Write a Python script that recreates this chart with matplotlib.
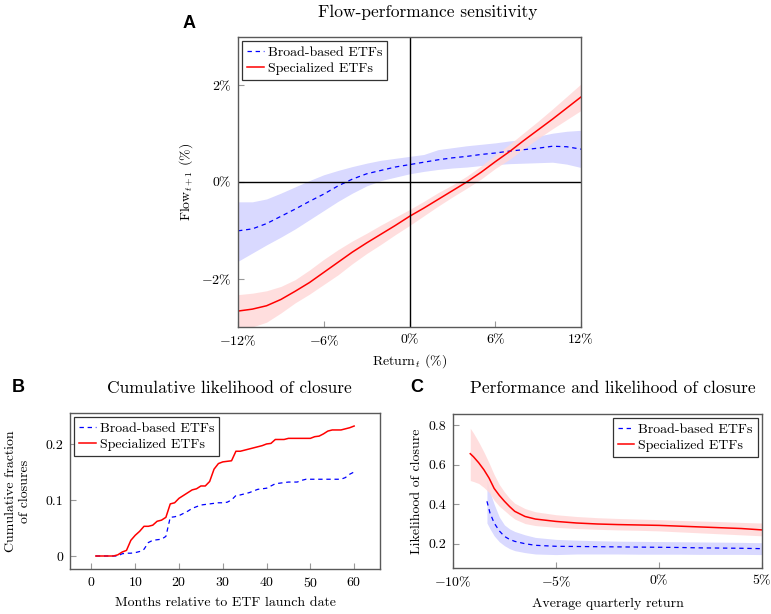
import numpy as np
import matplotlib
matplotlib.use("Agg")
import matplotlib.pyplot as plt

plt.rcParams['font.family'] = ['cmr10', 'DejaVu Serif']
plt.rcParams['mathtext.fontset'] = 'cm'
plt.rcParams['axes.formatter.use_mathtext'] = True

# ---- Panel A: flow-performance sensitivity ----
ret_a = [-12, -11, -10, -9, -8, -7, -6, -5, -4, -3, -2, -1, 0,
         1, 2, 3, 4, 5, 6, 7, 8, 9, 10, 11, 12]
broad_a = [-1.01, -0.97, -0.86, -0.71, -0.56, -0.40, -0.25, -0.08, 0.06, 0.17, 0.24, 0.31, 0.36,
           0.41, 0.46, 0.50, 0.53, 0.57, 0.60, 0.64, 0.67, 0.70, 0.74, 0.73, 0.68]
broad_a_hi = [-0.41, -0.41, -0.35, -0.23, -0.10, 0.03, 0.15, 0.24, 0.32, 0.39, 0.45, 0.49, 0.53,
              0.57, 0.67, 0.71, 0.75, 0.78, 0.81, 0.85, 0.88, 0.95, 1.01, 1.05, 1.07]
broad_a_lo = [-1.64, -1.47, -1.30, -1.14, -0.97, -0.78, -0.59, -0.40, -0.23, -0.08, 0.03, 0.10, 0.17,
              0.22, 0.26, 0.29, 0.31, 0.34, 0.36, 0.38, 0.39, 0.40, 0.41, 0.37, 0.30]
spec_a = [-2.67, -2.63, -2.56, -2.43, -2.26, -2.08, -1.87, -1.66, -1.45, -1.26, -1.08, -0.90, -0.71,
          -0.54, -0.36, -0.18, 0.00, 0.20, 0.42, 0.63, 0.86, 1.08, 1.30, 1.53, 1.76]
spec_a_hi = [-2.33, -2.30, -2.25, -2.16, -2.02, -1.82, -1.60, -1.40, -1.22, -1.06, -0.89, -0.73, -0.57,
             -0.40, -0.22, -0.06, 0.12, 0.33, 0.56, 0.78, 1.02, 1.26, 1.51, 1.77, 2.03]
spec_a_lo = [-3.05, -3.00, -2.90, -2.71, -2.50, -2.32, -2.12, -1.92, -1.69, -1.48, -1.29, -1.09, -0.90,
             -0.70, -0.50, -0.31, -0.13, 0.06, 0.28, 0.47, 0.69, 0.90, 1.10, 1.29, 1.48]

# ---- Panel B: cumulative likelihood of closure ----
months = list(range(1, 61))
broad_b = [0, 0, 0, 0, 0, 0, 0.004, 0.005, 0.005, 0.006, 0.008, 0.012, 0.024, 0.028, 0.029,
           0.030, 0.035, 0.069, 0.070, 0.072, 0.076, 0.080, 0.085, 0.088, 0.091, 0.092, 0.093,
           0.094, 0.095, 0.095, 0.096, 0.100, 0.108, 0.109, 0.111, 0.113, 0.116, 0.119, 0.120,
           0.121, 0.125, 0.129, 0.130, 0.131, 0.132, 0.132, 0.132, 0.135, 0.137, 0.137, 0.137,
           0.137, 0.137, 0.137, 0.137, 0.137, 0.137, 0.140, 0.146, 0.150]
spec_b = [0, 0, 0, 0, 0, 0.002, 0.007, 0.010, 0.028, 0.037, 0.044, 0.053, 0.053, 0.055, 0.062,
          0.064, 0.069, 0.093, 0.095, 0.103, 0.108, 0.113, 0.118, 0.120, 0.125, 0.125, 0.133,
          0.155, 0.165, 0.168, 0.169, 0.170, 0.187, 0.187, 0.189, 0.191, 0.193, 0.195, 0.197,
          0.200, 0.201, 0.208, 0.208, 0.208, 0.210, 0.210, 0.210, 0.210, 0.210, 0.210, 0.213,
          0.214, 0.218, 0.223, 0.225, 0.225, 0.225, 0.227, 0.229, 0.232]

# ---- Panel C: performance and likelihood of closure ----
ret_c_spec = [-9.16, -9.0, -8.75, -8.5, -8.25, -8.0, -7.75, -7.5, -7.25, -7.0, -6.5, -6.0,
              -5.0, -4.0, -3.0, -2.0, -1.0, 0.0, 1.0, 2.0, 3.0, 4.0, 5.0]
spec_c = [0.656, 0.640, 0.610, 0.575, 0.533, 0.480, 0.445, 0.415, 0.388, 0.364, 0.338, 0.325,
          0.313, 0.305, 0.300, 0.297, 0.295, 0.293, 0.289, 0.285, 0.281, 0.277, 0.270]
spec_c_hi = [0.785, 0.760, 0.715, 0.665, 0.610, 0.550, 0.500, 0.462, 0.430, 0.405, 0.378, 0.362,
             0.347, 0.338, 0.332, 0.328, 0.325, 0.322, 0.318, 0.315, 0.312, 0.308, 0.305]
spec_c_lo = [0.520, 0.515, 0.505, 0.485, 0.460, 0.420, 0.390, 0.368, 0.345, 0.325, 0.302, 0.292,
             0.283, 0.277, 0.273, 0.270, 0.268, 0.265, 0.260, 0.255, 0.250, 0.245, 0.240]
ret_c_broad = [-8.35, -8.2, -8.0, -7.75, -7.5, -7.25, -7.0, -6.5, -6.0, -5.0, -4.0, -3.0,
               -2.0, -1.0, 0.0, 1.0, 2.0, 3.0, 4.0, 5.0]
broad_c = [0.415, 0.355, 0.305, 0.265, 0.237, 0.222, 0.212, 0.200, 0.192, 0.187, 0.186, 0.185,
           0.184, 0.183, 0.182, 0.181, 0.179, 0.178, 0.177, 0.175]
broad_c_hi = [0.525, 0.460, 0.400, 0.335, 0.295, 0.275, 0.262, 0.245, 0.232, 0.222, 0.218, 0.215,
              0.213, 0.212, 0.211, 0.210, 0.209, 0.208, 0.207, 0.205]
broad_c_lo = [0.305, 0.275, 0.240, 0.210, 0.190, 0.175, 0.165, 0.155, 0.148, 0.145, 0.148, 0.148,
              0.148, 0.147, 0.147, 0.147, 0.146, 0.146, 0.146, 0.145]

BLUE = (0.0, 0.0, 1.0)
RED = (1.0, 0.0, 0.0)
BLUE_FILL = (0.85, 0.85, 1.0)
RED_FILL = (1.0, 0.85, 0.85)
SPINE = (0.35, 0.35, 0.35)


def style_axes(ax):
    for s in ax.spines.values():
        s.set_color(SPINE)
        s.set_linewidth(1.0)
    ax.tick_params(direction='in', length=4, color=(0.6, 0.6, 0.6), labelsize=10,
                   labelcolor='black', pad=5)


def add_legend(ax, loc):
    leg = ax.legend(loc=loc, fontsize=10, fancybox=False, framealpha=1,
                    edgecolor=(0.2, 0.2, 0.2), handlelength=1.2, handletextpad=0.3,
                    borderaxespad=0.3, borderpad=0.35, labelspacing=0.25)
    leg.get_frame().set_linewidth(0.9)


fig = plt.figure(figsize=(7.71, 6.14), dpi=100)

# Panel A
axA = fig.add_axes([0.3087, 0.4674, 0.4449, 0.4723])
axA.fill_between(ret_a, broad_a_lo, broad_a_hi, color=BLUE_FILL, lw=0)
axA.fill_between(ret_a, spec_a_lo, spec_a_hi, color=RED_FILL, lw=0, alpha=0.85)
axA.plot(ret_a, broad_a, color=BLUE, lw=0.9, ls=(0, (3.5, 3)), label='Broad-based ETFs')
axA.plot(ret_a, spec_a, color=RED, lw=1.1, label='Specialized ETFs')
axA.axhline(0, color='black', lw=1.0)
axA.axvline(0, color='black', lw=1.0)
axA.set_xlim(-12, 12)
axA.set_ylim(-3, 3)
axA.set_xticks([-12, -6, 0, 6, 12])
axA.set_xticklabels([r'$-$12%', r'$-$6%', '0%', '6%', '12%'])
axA.set_yticks([-2, 0, 2])
axA.set_yticklabels([r'$-$2%', '0%', '2%'])
axA.set_xlabel(r'Return$_t$ (%)', fontsize=10, labelpad=3)
axA.set_ylabel(r'Flow$_{t+1}$ (%)', fontsize=10, labelpad=4)
style_axes(axA)
add_legend(axA, 'upper left')

# Panel B
axB = fig.add_axes([0.0908, 0.0733, 0.402, 0.254])
axB.plot(months, broad_b, color=BLUE, lw=0.9, ls=(0, (3.5, 3)), label='Broad-based ETFs')
axB.plot(months, spec_b, color=RED, lw=1.1, label='Specialized ETFs')
axB.set_xlim(-4.9, 65.9)
axB.set_ylim(-0.0232, 0.2552)
axB.set_xticks([0, 10, 20, 30, 40, 50, 60])
axB.set_yticks([0, 0.1, 0.2])
axB.set_yticklabels(['0', '0.1', '0.2'])
axB.set_xlabel('Months relative to ETF launch date', fontsize=10, labelpad=5)
axB.set_ylabel('Cumulative fraction\nof closures', fontsize=10, labelpad=10)
style_axes(axB)
add_legend(axB, 'upper left')

# Panel C
axC = fig.add_axes([0.5875, 0.0749, 0.4008, 0.2508])
axC.fill_between(ret_c_broad, broad_c_lo, broad_c_hi, color=BLUE_FILL, lw=0)
axC.fill_between(ret_c_spec, spec_c_lo, spec_c_hi, color=RED_FILL, lw=0, alpha=0.85)
axC.plot(ret_c_broad, broad_c, color=BLUE, lw=0.9, ls=(0, (3.5, 3)), label='Broad-based ETFs')
axC.plot(ret_c_spec, spec_c, color=RED, lw=1.1, label='Specialized ETFs')
axC.set_xlim(-10, 5)
axC.set_ylim(0.077, 0.857)
axC.set_xticks([-10, -5, 0, 5])
axC.set_xticklabels([r'$-$10%', r'$-$5%', '0%', '5%'])
axC.set_yticks([0.2, 0.4, 0.6, 0.8])
axC.set_yticklabels(['0.2', '0.4', '0.6', '0.8'])
axC.set_xlabel('Average quarterly return', fontsize=10, labelpad=6)
axC.set_ylabel('Likelihood of closure', fontsize=10, labelpad=4)
style_axes(axC)
add_legend(axC, 'upper right')

# titles and panel letters
W, H = 771.0, 614.0
fig.text(428 / W, 1 - 12 / H, 'Flow-performance sensitivity', fontsize=12.5,
         ha='center', va='center')
fig.text(229 / W, 1 - 388 / H, 'Cumulative likelihood of closure', fontsize=12.5,
         ha='center', va='center')
fig.text(613 / W, 1 - 388 / H, 'Performance and likelihood of closure', fontsize=12.5,
         ha='center', va='center')
for letter, x, y in [('A', 189, 23), ('B', 18, 387), ('C', 417, 387)]:
    fig.text(x / W, 1 - y / H, letter, fontsize=13, fontweight='bold',
             family='Liberation Sans', ha='center', va='center')

fig.savefig('out.png', dpi=100)
